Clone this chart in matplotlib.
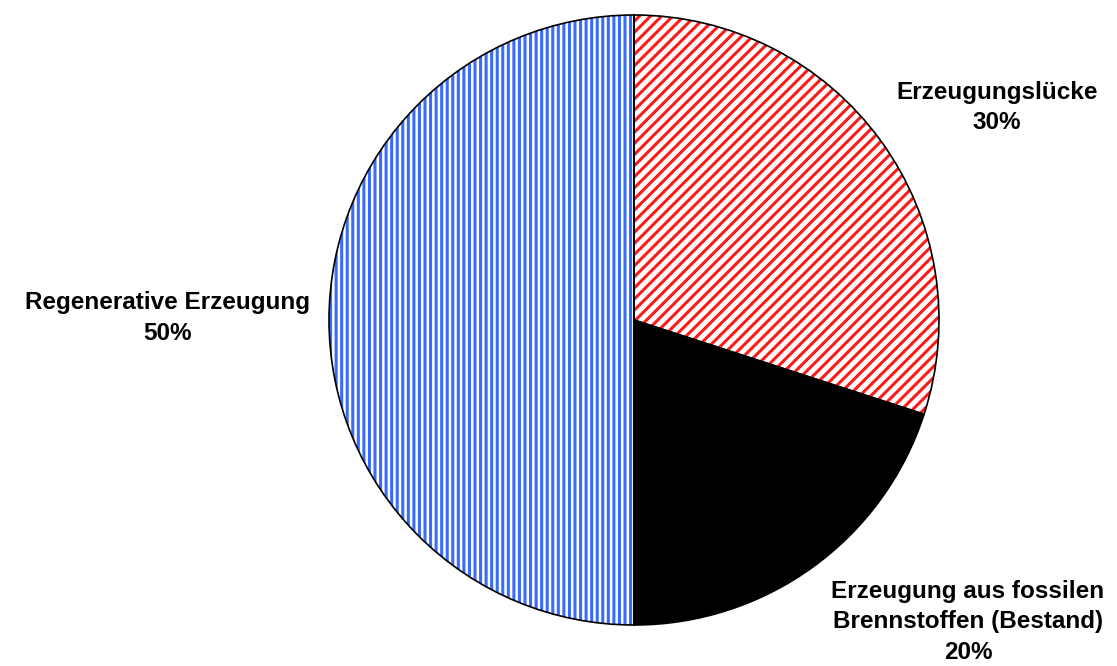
import matplotlib.pyplot as plt

labels = ["Erzeugungslücke", "Erzeugung aus fossilen\nBrennstoffen (Bestand)", "Regenerative Erzeugung"]
shares = [30, 20, 50]
hatch_colors = ["#ff1a1a", "black", "#3a6bff"]
hatches = ["///", "", "|||"]
label_pos = [(1.19, 0.697), (1.095, -0.99), (-1.528, 0.007)]


def plot_pie():
    plt.rcParams["font.family"] = ["Liberation Sans", "DejaVu Sans"]
    plt.rcParams["hatch.linewidth"] = 2.2

    fig = plt.figure(figsize=(11.17, 6.66), dpi=100)
    ax = fig.add_axes([0, 0, 1, 1])

    # hatched fills
    wedges, _ = ax.pie(shares, startangle=90, counterclock=False, radius=1,
                       wedgeprops=dict(facecolor="white", linewidth=0))
    for w, c, h in zip(wedges, hatch_colors, hatches):
        w.set_edgecolor(c)
        if h:
            w.set_hatch(h)
        else:
            w.set_facecolor(c)

    # black outlines on top
    ax.pie(shares, startangle=90, counterclock=False, radius=1,
           wedgeprops=dict(fill=False, edgecolor="black", linewidth=1.2))

    for lab, s, (x, y) in zip(labels, shares, label_pos):
        ax.text(x, y, f"{lab}\n{s}%", ha="center", va="center",
                fontsize=17.5, fontweight="bold", linespacing=1.42)

    ax.set_xlim(-634 / 305, (1117 - 634) / 305)
    ax.set_ylim(-346 / 305, 320 / 305)
    ax.set_aspect("auto")
    ax.axis("off")
    fig.savefig("out.png", dpi=100)


if __name__ == "__main__":
    plot_pie()
